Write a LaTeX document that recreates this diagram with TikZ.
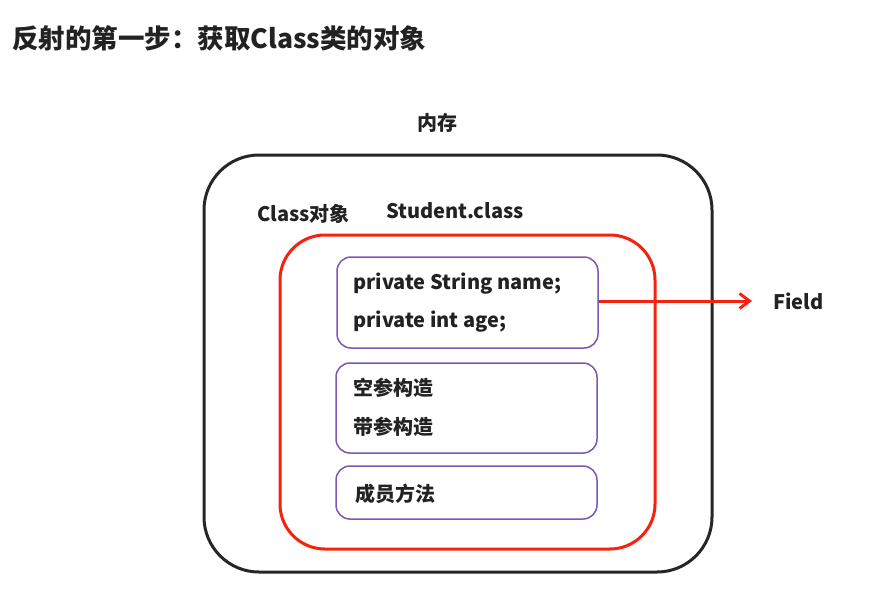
\documentclass[tikz,border=0pt]{standalone}
\usepackage{fontspec}
\setmainfont{Noto Sans CJK SC}
\usetikzlibrary{arrows.meta}
\definecolor{txt}{HTML}{222222}
\definecolor{redline}{HTML}{F5220F}
\definecolor{purp}{HTML}{7E57B0}
\tikzset{
  lbl/.style={anchor=west, inner sep=0pt, text=txt, font=\bfseries\fontsize{20}{24}\selectfont},
  membox/.style={draw=purp, line width=1.5pt, rounded corners=14pt, inner sep=0pt},
}
\begin{document}
\begin{tikzpicture}[x=1pt,y=-1pt]
\useasboundingbox[fill=white] (0,0) rectangle (872,606);
\node[anchor=west, inner sep=0pt, text=txt, font=\bfseries\fontsize{26.5}{30}\selectfont] (title) at (12,38) {反射的第一步：获取Class类的对象};
\node[draw=black!85, line width=3pt, rounded corners=55pt, minimum width=508pt, minimum height=417pt, inner sep=0pt] (mem) at (458,363.5) {};
\node[draw=redline, line width=3pt, rounded corners=45pt, minimum width=375pt, minimum height=314pt, inner sep=0pt] (cls) at (467.5,392) {};
\node[membox, minimum width=261pt, minimum height=91pt] (b1) at (467.5,302.5) {};
\node[membox, minimum width=261pt, minimum height=90pt] (b2) at (466.5,408) {};
\node[membox, minimum width=261pt, minimum height=53pt] (b3) at (466.5,492.5) {};
\node[lbl] (memlbl) at (417,123) {内存};
\node[lbl] (clslbl) at (257,214) {Class对象};
\node[lbl] (stu) at (386,211) {Student.class};
\node[lbl] (f1) at (353,284) {private String name;};
\node[lbl] (f2) at (353,322) {private int age;};
\node[lbl] (c1) at (353,388) {空参构造};
\node[lbl] (c2) at (353,427) {带参构造};
\node[lbl] (m1) at (355,494) {成员方法};
\node[lbl] (field) at (773,301) {Field};
\coordinate (tip) at (752,301);
\draw[redline, line width=3pt, -{Straight Barb[length=10pt,width=15pt]}] (b1.east |- tip) -- (tip);
\end{tikzpicture}
\end{document}
